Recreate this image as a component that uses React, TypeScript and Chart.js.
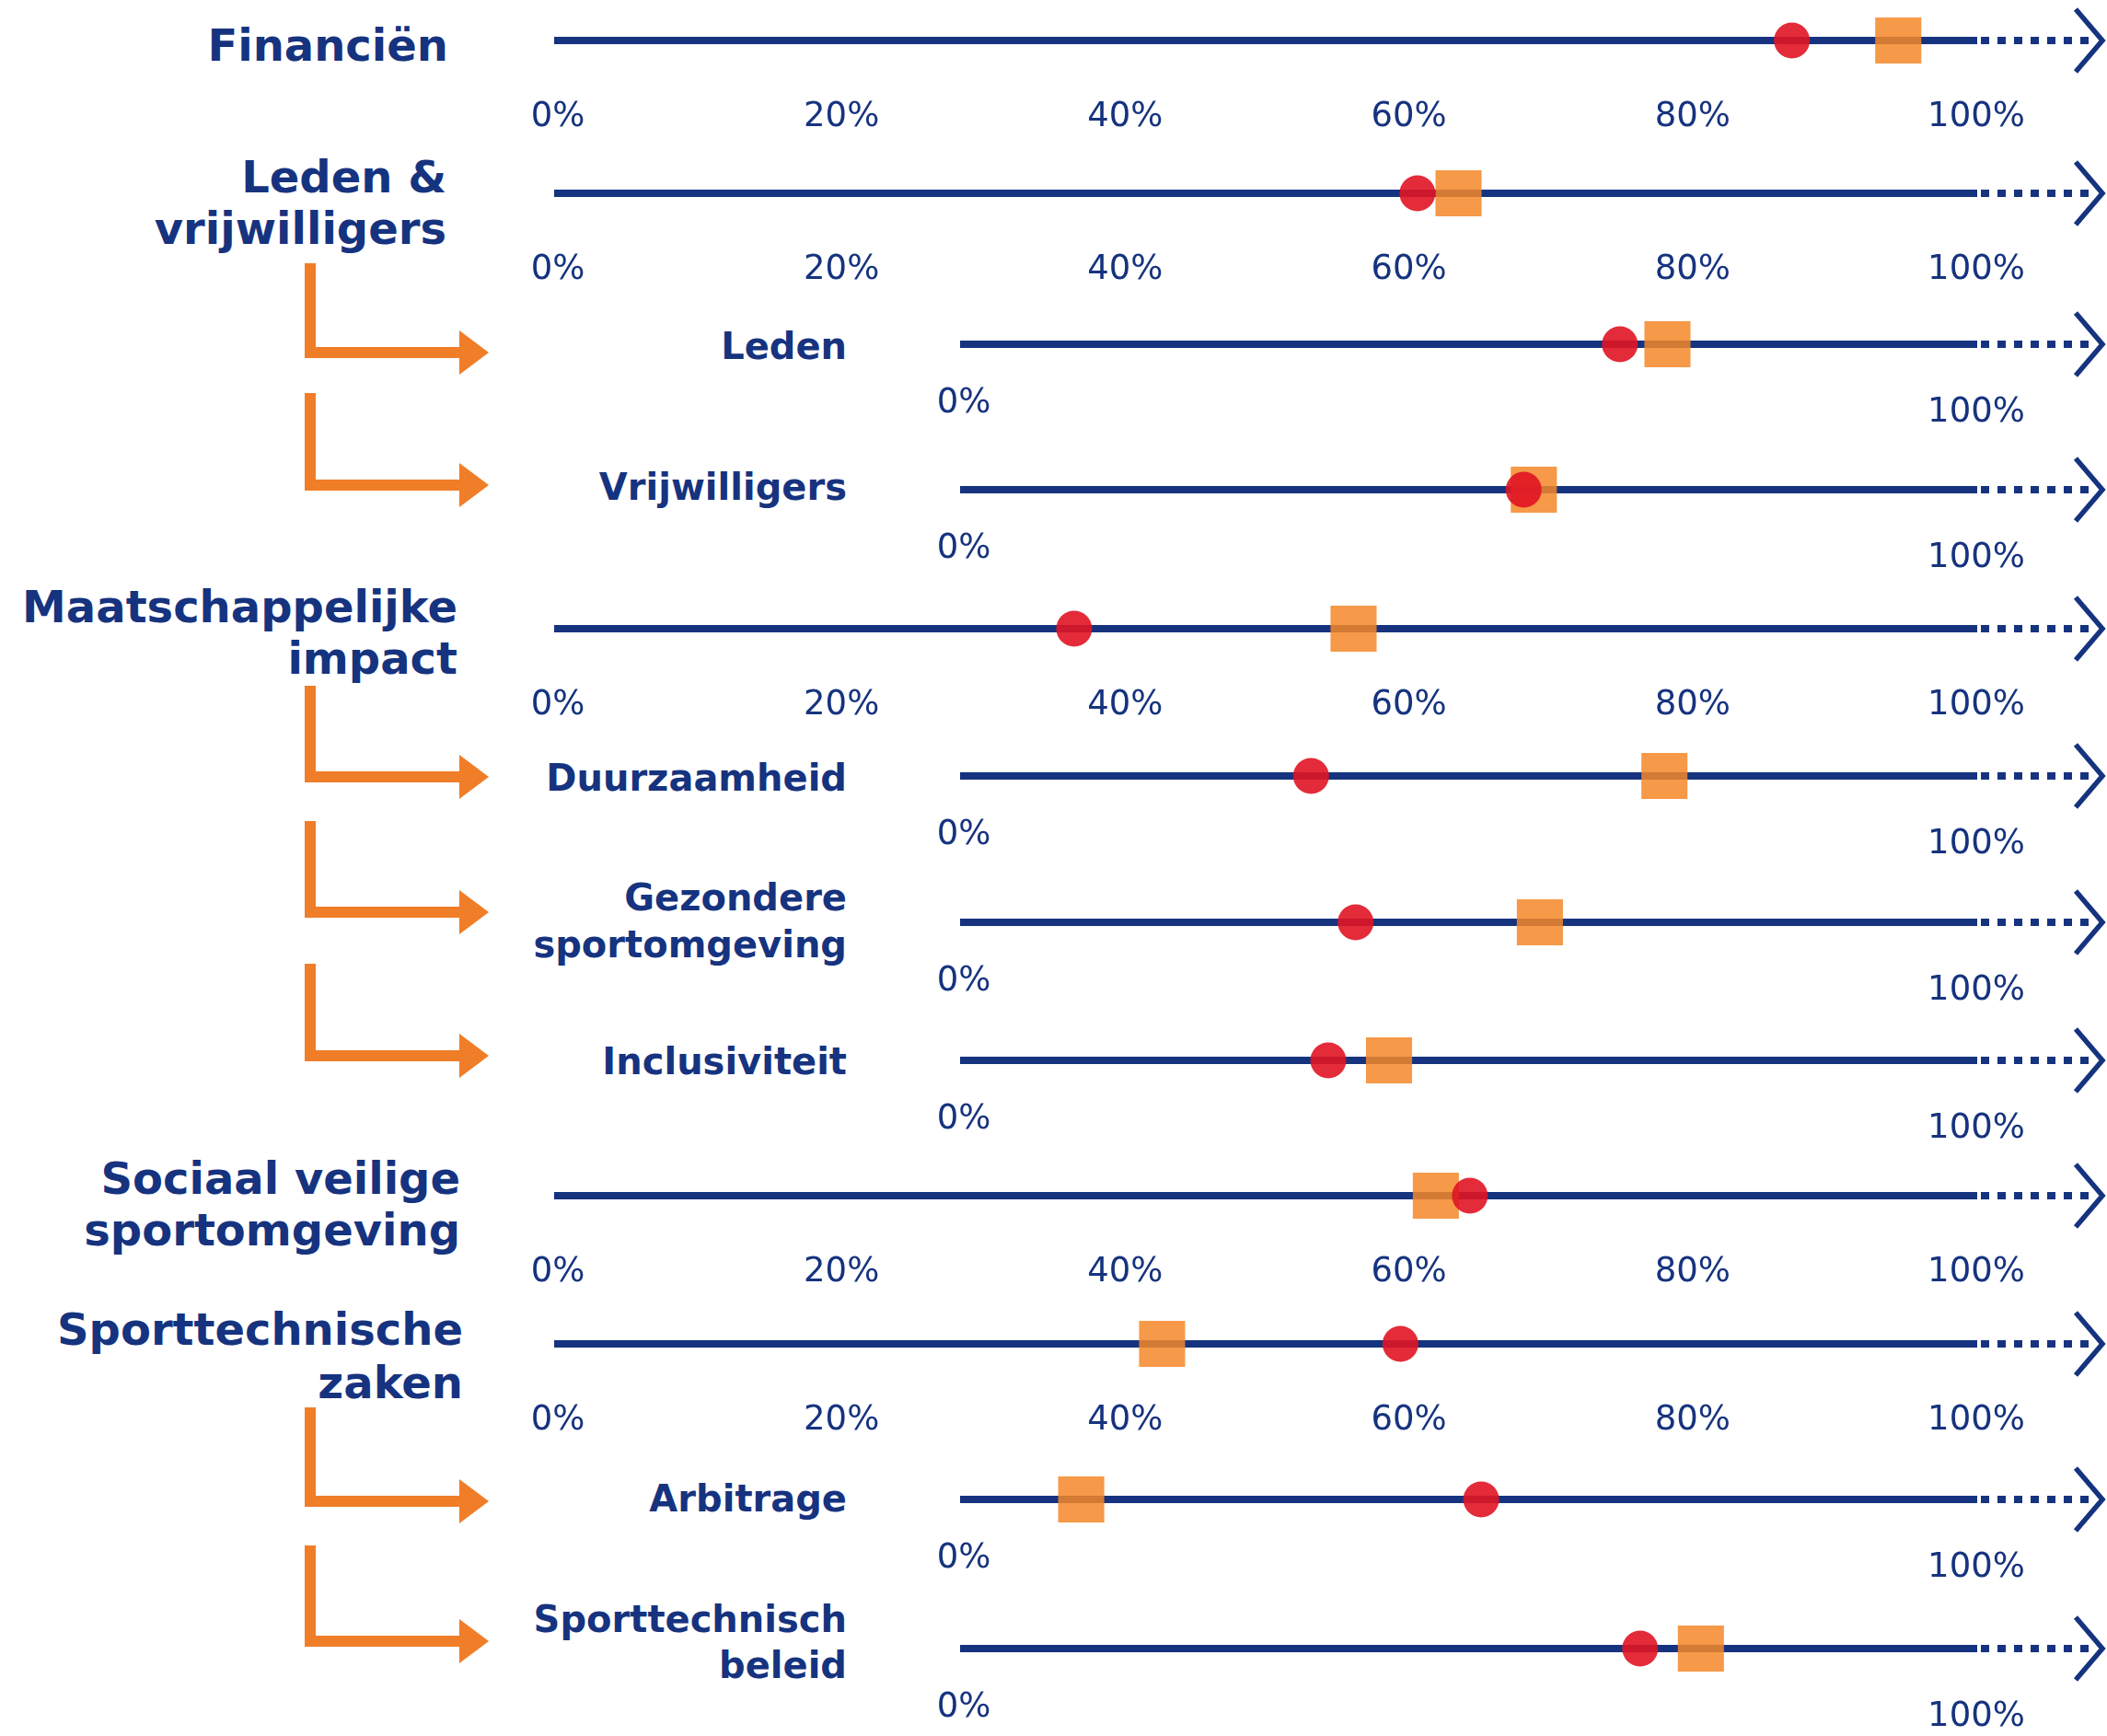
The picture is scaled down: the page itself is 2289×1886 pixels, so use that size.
import React, { useEffect, useRef } from 'react';
import { Chart, registerables } from 'chart.js';

Chart.register(...registerables);

// ---------- Data ----------
const ROW_LABELS: string[][] = [
  ['Financiën'],
  ['Leden &', 'vrijwilligers'],
  ['Leden'],
  ['Vrijwilligers'],
  ['Maatschappelijke', 'impact'],
  ['Duurzaamheid'],
  ['Gezondere', 'sportomgeving'],
  ['Inclusiviteit'],
  ['Sociaal veilige', 'sportomgeving'],
  ['Sporttechnische', 'zaken'],
  ['Arbitrage'],
  ['Sporttechnisch', 'beleid'],
];
const IS_SUB: boolean[] = [false, false, true, true, false, true, true, true, false, false, true, true];
const CIRCLE_VALUES: number[] = [87.0, 60.6, 64.8, 55.3, 36.4, 34.3, 38.7, 36.0, 64.3, 59.4, 51.1, 66.8];
const SQUARE_VALUES: number[] = [94.5, 63.5, 69.5, 56.3, 56.1, 69.2, 56.9, 42.0, 61.9, 42.6, 11.6, 72.8];
const MAIN_TICKS: number[] = [0, 20, 40, 60, 80, 100];
const SUB_TICKS: number[] = [0, 100];

// ---------- Layout ----------
const W = 2289;
const H = 1886;
const CANVAS_H = 300;
const ROW_LINE_Y = [44, 210, 374, 532, 683, 843, 1002, 1152, 1299, 1460, 1629, 1791];
const MAIN_LEFT = 606;
const SUB_LEFT = 1047;
const AXIS_RIGHT = 2147;
const TICK_SIZE = 37;
// label cap-centre y per line, right edge
const LABEL_Y: number[][] = [
  [48],
  [191, 247],
  [375],
  [528],
  [658, 714],
  [844],
  [974, 1025],
  [1152],
  [1279, 1335],
  [1443, 1501],
  [1627],
  [1758, 1808],
];
const LABEL_RIGHT = [487, 485, 920, 920, 497, 920, 920, 920, 500, 503, 920, 920];
// orange arrows: [top of vertical bar, y of horizontal bar]
const ARROWS: number[][] = [
  [286, 383],
  [427, 527],
  [745, 844],
  [892, 991],
  [1047, 1147],
  [1529, 1631],
  [1679, 1783],
];

const NAVY = '#16337f';
const ORANGE = '#f07d28';
const FONT = "'DejaVu Sans', Verdana, sans-serif";

const extensionPlugin = {
  id: 'axisExtension',
  afterDraw(chart: any) {
    const { ctx } = chart;
    const xs = chart.scales.x;
    const y0 = chart.scales.y.getPixelForValue(0);
    const xEnd = xs.getPixelForValue(100);
    ctx.save();
    ctx.strokeStyle = NAVY;
    ctx.lineWidth = 8;
    ctx.lineCap = 'butt';
    ctx.setLineDash([9, 9]);
    ctx.beginPath();
    ctx.moveTo(xEnd + 5, y0);
    ctx.lineTo(xEnd + 125, y0);
    ctx.stroke();
    ctx.setLineDash([]);
    ctx.lineWidth = 5.5;
    ctx.lineJoin = 'miter';
    ctx.beginPath();
    ctx.moveTo(xEnd + 108, y0 - 34);
    ctx.lineTo(xEnd + 137, y0);
    ctx.lineTo(xEnd + 108, y0 + 34);
    ctx.stroke();
    ctx.restore();
  },
};

function RowChart({ index }: { index: number }) {
  const canvasRef = useRef<HTMLCanvasElement>(null);
  const wrapRef = useRef<HTMLDivElement>(null);

  useEffect(() => {
    const sub = IS_SUB[index];
    const tickValues = sub ? SUB_TICKS : MAIN_TICKS;
    const chart = new Chart(canvasRef.current as HTMLCanvasElement, {
      type: 'scatter',
      data: {
        datasets: [
          {
            label: 'circle',
            data: [{ x: CIRCLE_VALUES[index], y: 0 }],
            pointStyle: 'circle',
            pointRadius: 19.5,
            backgroundColor: 'rgba(224,20,35,0.9)',
            borderWidth: 0,
            order: 0,
            clip: false,
          } as any,
          {
            label: 'square',
            data: [{ x: SQUARE_VALUES[index], y: 0 }],
            pointStyle: 'rect',
            pointRadius: 35.4,
            backgroundColor: 'rgba(245,135,40,0.85)',
            borderWidth: 0,
            order: 1,
            clip: false,
          } as any,
        ],
      },
      options: {
        responsive: false,
        animation: false,
        events: [],
        layout: {
          padding: { left: sub ? SUB_LEFT : MAIN_LEFT, right: W - AXIS_RIGHT, top: 40, bottom: 0 },
        },
        plugins: { legend: { display: false }, tooltip: { enabled: false } },
        scales: {
          x: {
            type: 'linear',
            min: 0,
            max: 100,
            position: 'bottom',
            afterBuildTicks: (axis: any) => {
              axis.ticks = tickValues.map((v) => ({ value: v }));
            },
            grid: { display: false, drawTicks: false, tickLength: 0 },
            border: { display: true, color: NAVY, width: 8 },
            ticks: {
              padding: sub ? 42 : 61,
              color: NAVY,
              autoSkip: false,
              maxRotation: 0,
              minRotation: 0,
              font: (ctx: any) => ({
                family: FONT,
                size: TICK_SIZE,
                lineHeight: sub && ctx.tick && ctx.tick.value === 100 ? 1.73 : 1.2,
              }),
              callback: (v: any) => `${v}%`,
            },
          },
          y: { type: 'linear', min: 0, max: 1, display: false },
        },
      } as any,
      plugins: [extensionPlugin],
    });
    if (wrapRef.current) {
      wrapRef.current.style.top = `${ROW_LINE_Y[index] - chart.chartArea.bottom}px`;
    }
    return () => chart.destroy();
  }, [index]);

  return (
    <div ref={wrapRef} style={{ position: 'absolute', left: 0, top: 0, width: W, height: CANVAS_H }}>
      <canvas ref={canvasRef} width={W} height={CANVAS_H} style={{ display: 'block' }} />
    </div>
  );
}

export default function App() {
  return (
    <div
      style={{
        position: 'absolute',
        left: 0,
        top: 0,
        width: W,
        height: H,
        background: '#ffffff',
        overflow: 'hidden',
      }}
    >
      <svg width={W} height={H} style={{ position: 'absolute', left: 0, top: 0 }}>
        {ARROWS.map(([top, y], i) => (
          <g key={i} fill={ORANGE}>
            <rect x={331} y={top} width={12} height={y + 6 - top} />
            <rect x={331} y={y - 6} width={169} height={12} />
            <polygon points={`499,${y - 24} 531,${y} 499,${y + 24}`} />
          </g>
        ))}
      </svg>
      {ROW_LABELS.map((lines, i) =>
        lines.map((line, j) => (
          <div
            key={`${i}-${j}`}
            style={{
              position: 'absolute',
              left: 0,
              width: LABEL_RIGHT[i],
              top: LABEL_Y[i][j] + 0.8,
              lineHeight: 0,
              textAlign: 'right',
              whiteSpace: 'nowrap',
              fontFamily: FONT,
              fontWeight: 'bold',
              fontSize: IS_SUB[i] ? 40 : 48,
              color: NAVY,
            }}
          >
            {line}
          </div>
        ))
      )}
      {ROW_LABELS.map((_, i) => (
        <RowChart key={i} index={i} />
      ))}
    </div>
  );
}
